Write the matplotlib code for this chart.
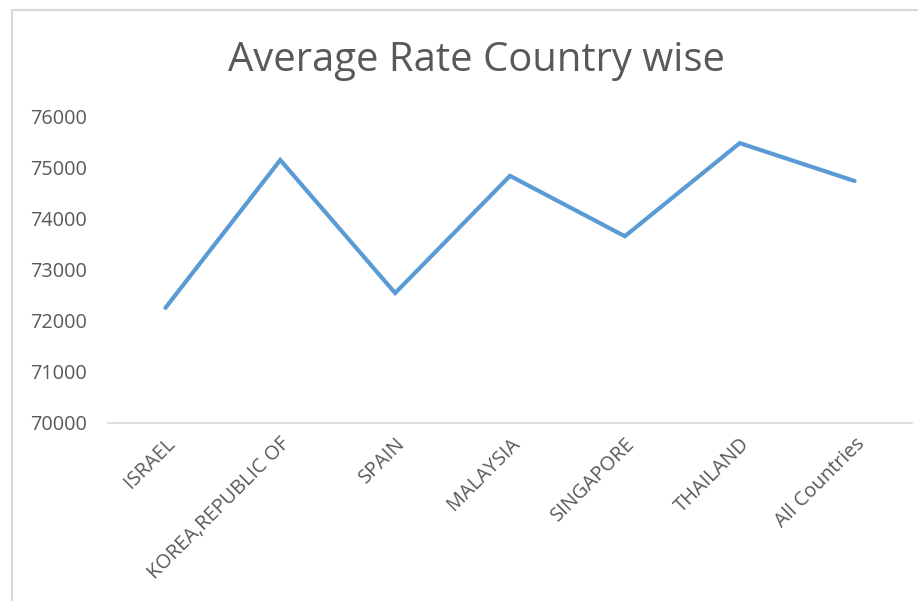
import matplotlib.pyplot as plt
from matplotlib.patches import Rectangle

paises = ["ISRAEL", "KOREA,REPUBLIC OF", "SPAIN", "MALAYSIA", "SINGAPORE", "THAILAND", "All Countries"]
media_taxa = [72250, 75140, 72540, 74830, 73650, 75470, 74730]
y_ticks = [70000, 71000, 72000, 73000, 74000, 75000, 76000]

plt.rcParams['font.family'] = ['Open Sans', 'DejaVu Sans']
cinza = '#595959'

fig = plt.figure(figsize=(9.18, 6.01), dpi=100)
ax = fig.add_axes([108 / 918, 1 - 423 / 601, 804 / 918, 307 / 601])

# borda do grafico (estilo Excel)
fig.patches.append(Rectangle((12 / 918, -0.1), 1.2, 1 - 10 / 601 + 0.1,
                             transform=fig.transFigure, fill=False,
                             edgecolor='#D9D9D9', linewidth=1.5))

x = list(range(len(paises)))
ax.plot(x, media_taxa, color='#5B9BD5', linewidth=3, solid_joinstyle='miter', solid_capstyle='round')

ax.set_xlim(-0.5, len(paises) - 0.5)
ax.set_ylim(70000, 76000)
ax.set_yticks(y_ticks)
ax.set_yticklabels([str(v) for v in y_ticks])
ax.set_xticks(x)
ax.set_xticklabels(paises, rotation=45, ha='right', rotation_mode='anchor')

for s in ['top', 'right', 'left']:
    ax.spines[s].set_visible(False)
ax.spines['bottom'].set_color('#D9D9D9')
ax.spines['bottom'].set_linewidth(1.2)
ax.tick_params(axis='both', length=0, colors=cinza, labelsize=14.3)
ax.tick_params(axis='y', pad=15)
ax.tick_params(axis='x', pad=8)

fig.text(476 / 918, 1 - 61 / 601, "Average Rate Country wise", ha='center', va='center',
         fontsize=28.8, color=cinza)

plt.savefig("out.png", dpi=100)
